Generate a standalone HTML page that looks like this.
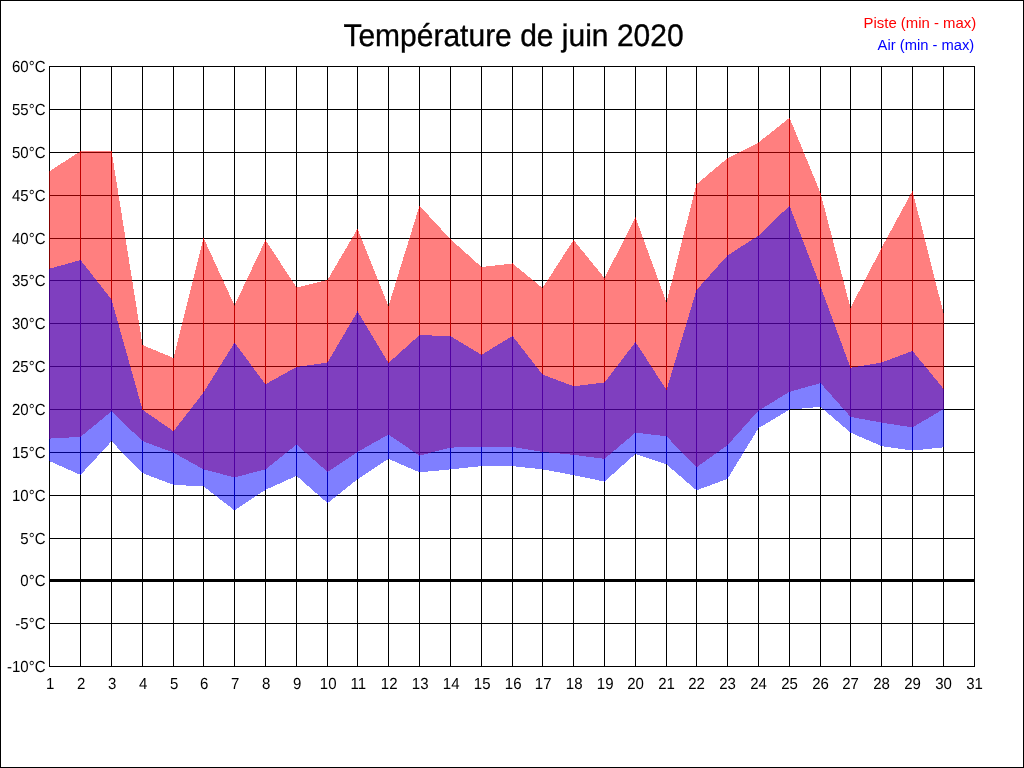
<!DOCTYPE html>
<html lang="fr"><head><meta charset="utf-8"><title>Température de juin 2020</title>
<style>
html,body{margin:0;padding:0;background:#fff;}
body{width:1024px;height:768px;overflow:hidden;position:relative;font-family:"Liberation Sans",sans-serif;}
svg{position:absolute;left:0;top:0;display:block;}
text{font-family:"Liberation Sans",sans-serif;}
.yl{text-rendering:geometricPrecision;font-size:15px;text-anchor:end;fill:#000;}
.xl{text-rendering:geometricPrecision;font-size:15px;text-anchor:middle;fill:#000;}
.lg{text-anchor:end;}
.ti{text-rendering:geometricPrecision;font-size:30px;text-anchor:middle;fill:#000;stroke:#000;stroke-width:0.35px;}
</style></head><body>
<svg width="1024" height="768" viewBox="0 0 1024 768">
<rect x="0" y="0" width="1024" height="768" fill="#fff"/>
<g shape-rendering="crispEdges" fill="#000">
<rect x="0" y="0" width="1024" height="1"/><rect x="0" y="767" width="1024" height="1"/>
<rect x="0" y="0" width="1" height="768"/><rect x="1023" y="0" width="1" height="768"/>
<rect x="49" y="66" width="926" height="1"/>
<rect x="49" y="109" width="926" height="1"/>
<rect x="49" y="152" width="926" height="1"/>
<rect x="49" y="195" width="926" height="1"/>
<rect x="49" y="238" width="926" height="1"/>
<rect x="49" y="280" width="926" height="1"/>
<rect x="49" y="323" width="926" height="1"/>
<rect x="49" y="366" width="926" height="1"/>
<rect x="49" y="409" width="926" height="1"/>
<rect x="49" y="452" width="926" height="1"/>
<rect x="49" y="495" width="926" height="1"/>
<rect x="49" y="538" width="926" height="1"/>
<rect x="49" y="579" width="926" height="3"/>
<rect x="49" y="623" width="926" height="1"/>
<rect x="49" y="666" width="926" height="1"/>
<rect x="49" y="66" width="1" height="601"/>
<rect x="80" y="66" width="1" height="601"/>
<rect x="111" y="66" width="1" height="601"/>
<rect x="142" y="66" width="1" height="601"/>
<rect x="173" y="66" width="1" height="601"/>
<rect x="203" y="66" width="1" height="601"/>
<rect x="234" y="66" width="1" height="601"/>
<rect x="265" y="66" width="1" height="601"/>
<rect x="296" y="66" width="1" height="601"/>
<rect x="327" y="66" width="1" height="601"/>
<rect x="357" y="66" width="1" height="601"/>
<rect x="388" y="66" width="1" height="601"/>
<rect x="419" y="66" width="1" height="601"/>
<rect x="450" y="66" width="1" height="601"/>
<rect x="481" y="66" width="1" height="601"/>
<rect x="512" y="66" width="1" height="601"/>
<rect x="542" y="66" width="1" height="601"/>
<rect x="573" y="66" width="1" height="601"/>
<rect x="604" y="66" width="1" height="601"/>
<rect x="635" y="66" width="1" height="601"/>
<rect x="666" y="66" width="1" height="601"/>
<rect x="696" y="66" width="1" height="601"/>
<rect x="727" y="66" width="1" height="601"/>
<rect x="758" y="66" width="1" height="601"/>
<rect x="789" y="66" width="1" height="601"/>
<rect x="820" y="66" width="1" height="601"/>
<rect x="850" y="66" width="1" height="601"/>
<rect x="881" y="66" width="1" height="601"/>
<rect x="912" y="66" width="1" height="601"/>
<rect x="943" y="66" width="1" height="601"/>
<rect x="974" y="66" width="1" height="601"/>
</g>
<g shape-rendering="crispEdges" fill-opacity="0.5">
<polygon fill="#f00" points="49,171.57 81,150.93 81,436.82 49,438.63"/>
<polygon fill="#00f" points="49,268.89 81,259.86 81,475.07 49,460.88"/>
<polygon fill="#f00" points="80,151.26 112,150.74 112,410.94 80,437.26"/>
<polygon fill="#00f" points="80,259.36 112,300.14 112,440.81 80,475.39"/>
<polygon fill="#f00" points="111,147.62 143,348.13 143,441.58 111,410.87"/>
<polygon fill="#00f" points="111,297.72 143,411.53 143,473.61 111,440.84"/>
<polygon fill="#f00" points="142,344.79 174,358.21 174,452.79 142,440.91"/>
<polygon fill="#00f" points="142,409.40 174,431.60 174,485.04 142,472.91"/>
<polygon fill="#f00" points="173,360.00 204,235.75 204,469.63 173,452.32"/>
<polygon fill="#00f" points="173,431.90 204,391.85 204,486.38 173,484.83"/>
<polygon fill="#f00" points="203,236.66 235,306.59 235,477.48 203,469.22"/>
<polygon fill="#00f" points="203,393.30 235,341.95 235,510.74 203,485.96"/>
<polygon fill="#f00" points="234,306.56 266,238.94 266,469.22 234,477.48"/>
<polygon fill="#00f" points="234,342.08 266,384.92 266,489.52 234,510.68"/>
<polygon fill="#f00" points="265,239.23 297,288.27 297,444.20 265,469.75"/>
<polygon fill="#00f" points="265,384.53 297,366.72 297,475.62 265,490.08"/>
<polygon fill="#f00" points="296,287.62 328,279.88 328,472.29 296,444.16"/>
<polygon fill="#00f" points="296,367.07 328,362.43 328,503.54 296,475.41"/>
<polygon fill="#f00" points="327,280.85 358,227.90 358,451.52 327,472.18"/>
<polygon fill="#00f" points="327,363.35 358,310.65 358,478.95 327,503.50"/>
<polygon fill="#f00" points="357,227.50 389,307.25 389,434.32 357,452.13"/>
<polygon fill="#00f" points="357,310.67 389,363.83 389,458.52 357,479.68"/>
<polygon fill="#f00" points="388,307.62 420,204.13 420,455.94 388,434.26"/>
<polygon fill="#00f" points="388,363.45 420,334.55 420,472.57 388,458.63"/>
<polygon fill="#f00" points="419,205.21 451,239.79 451,447.47 419,455.73"/>
<polygon fill="#00f" points="419,334.98 451,336.27 451,469.30 419,472.40"/>
<polygon fill="#f00" points="450,238.80 482,267.45 482,446.84 450,447.61"/>
<polygon fill="#00f" points="450,335.95 482,355.05 482,466.05 450,469.40"/>
<polygon fill="#f00" points="481,267.06 513,263.44 513,446.85 481,446.85"/>
<polygon fill="#00f" points="481,355.05 513,335.70 513,466.10 481,466.10"/>
<polygon fill="#f00" points="512,263.09 543,288.41 543,451.93 512,446.77"/>
<polygon fill="#00f" points="512,335.36 543,375.14 543,469.40 512,466.05"/>
<polygon fill="#f00" points="542,288.77 574,239.23 574,454.90 542,451.80"/>
<polygon fill="#00f" points="542,374.31 574,386.44 574,475.19 542,469.26"/>
<polygon fill="#f00" points="573,239.39 605,278.61 605,458.91 573,454.79"/>
<polygon fill="#00f" points="573,386.31 605,382.44 605,481.70 573,475.00"/>
<polygon fill="#f00" points="604,278.98 636,216.52 636,432.18 604,459.27"/>
<polygon fill="#00f" points="604,383.15 636,341.35 636,453.40 604,482.05"/>
<polygon fill="#f00" points="635,216.13 667,303.62 667,436.41 635,432.54"/>
<polygon fill="#00f" points="635,341.23 667,390.77 667,464.52 635,453.68"/>
<polygon fill="#f00" points="666,304.22 697,182.28 697,467.87 666,435.83"/>
<polygon fill="#00f" points="666,391.67 697,288.33 697,490.78 666,463.92"/>
<polygon fill="#f00" points="696,184.67 728,157.83 728,444.74 696,467.71"/>
<polygon fill="#00f" points="696,290.56 728,254.94 728,478.66 696,490.54"/>
<polygon fill="#f00" points="727,158.50 759,142.25 759,410.04 727,445.66"/>
<polygon fill="#00f" points="727,255.82 759,235.28 759,427.28 727,479.67"/>
<polygon fill="#f00" points="758,142.90 790,117.35 790,391.55 758,410.90"/>
<polygon fill="#00f" points="758,236.08 790,205.27 790,409.30 758,428.40"/>
<polygon fill="#f00" points="789,116.54 821,194.21 821,382.96 789,391.99"/>
<polygon fill="#00f" points="789,204.45 821,287.80 821,406.81 789,409.64"/>
<polygon fill="#f00" points="820,191.08 851,309.92 851,417.41 820,382.54"/>
<polygon fill="#00f" points="820,285.15 851,369.10 851,433.03 820,406.42"/>
<polygon fill="#f00" points="850,308.97 882,247.03 882,422.69 850,416.76"/>
<polygon fill="#00f" points="850,367.83 882,362.42 882,446.32 850,432.38"/>
<polygon fill="#f00" points="881,248.92 913,189.83 913,427.43 881,422.52"/>
<polygon fill="#00f" points="881,362.69 913,350.81 913,450.67 881,446.03"/>
<polygon fill="#f00" points="912,188.77 944,315.23 944,408.81 912,427.64"/>
<polygon fill="#00f" points="912,350.39 944,389.36 944,447.30 912,450.65"/>
</g>
<text class="yl" transform="translate(45.5,72) scale(1,1.07)">60°C</text>
<text class="yl" transform="translate(45.5,115) scale(1,1.07)">55°C</text>
<text class="yl" transform="translate(45.5,158) scale(1,1.07)">50°C</text>
<text class="yl" transform="translate(45.5,201) scale(1,1.07)">45°C</text>
<text class="yl" transform="translate(45.5,244) scale(1,1.07)">40°C</text>
<text class="yl" transform="translate(45.5,286) scale(1,1.07)">35°C</text>
<text class="yl" transform="translate(45.5,329) scale(1,1.07)">30°C</text>
<text class="yl" transform="translate(45.5,372) scale(1,1.07)">25°C</text>
<text class="yl" transform="translate(45.5,415) scale(1,1.07)">20°C</text>
<text class="yl" transform="translate(45.5,458) scale(1,1.07)">15°C</text>
<text class="yl" transform="translate(45.5,501) scale(1,1.07)">10°C</text>
<text class="yl" transform="translate(45.5,544) scale(1,1.07)">5°C</text>
<text class="yl" transform="translate(45.5,586) scale(1,1.07)">0°C</text>
<text class="yl" transform="translate(45.5,629) scale(1,1.07)">-5°C</text>
<text class="yl" transform="translate(45.5,672) scale(1,1.07)">-10°C</text>
<text class="xl" transform="translate(50.2,689) scale(1,1.07)">1</text>
<text class="xl" transform="translate(81.2,689) scale(1,1.07)">2</text>
<text class="xl" transform="translate(112.2,689) scale(1,1.07)">3</text>
<text class="xl" transform="translate(143.2,689) scale(1,1.07)">4</text>
<text class="xl" transform="translate(174.2,689) scale(1,1.07)">5</text>
<text class="xl" transform="translate(204.2,689) scale(1,1.07)">6</text>
<text class="xl" transform="translate(235.2,689) scale(1,1.07)">7</text>
<text class="xl" transform="translate(266.2,689) scale(1,1.07)">8</text>
<text class="xl" transform="translate(297.2,689) scale(1,1.07)">9</text>
<text class="xl" transform="translate(328.2,689) scale(1,1.07)">10</text>
<text class="xl" transform="translate(358.2,689) scale(1,1.07)">11</text>
<text class="xl" transform="translate(389.2,689) scale(1,1.07)">12</text>
<text class="xl" transform="translate(420.2,689) scale(1,1.07)">13</text>
<text class="xl" transform="translate(451.2,689) scale(1,1.07)">14</text>
<text class="xl" transform="translate(482.2,689) scale(1,1.07)">15</text>
<text class="xl" transform="translate(513.2,689) scale(1,1.07)">16</text>
<text class="xl" transform="translate(543.2,689) scale(1,1.07)">17</text>
<text class="xl" transform="translate(574.2,689) scale(1,1.07)">18</text>
<text class="xl" transform="translate(605.2,689) scale(1,1.07)">19</text>
<text class="xl" transform="translate(635.5,689) scale(1,1.07)">20</text>
<text class="xl" transform="translate(666.5,689) scale(1,1.07)">21</text>
<text class="xl" transform="translate(696.5,689) scale(1,1.07)">22</text>
<text class="xl" transform="translate(727.5,689) scale(1,1.07)">23</text>
<text class="xl" transform="translate(758.5,689) scale(1,1.07)">24</text>
<text class="xl" transform="translate(789.5,689) scale(1,1.07)">25</text>
<text class="xl" transform="translate(820.5,689) scale(1,1.07)">26</text>
<text class="xl" transform="translate(850.5,689) scale(1,1.07)">27</text>
<text class="xl" transform="translate(881.5,689) scale(1,1.07)">28</text>
<text class="xl" transform="translate(912.5,689) scale(1,1.07)">29</text>
<text class="xl" transform="translate(943.5,689) scale(1,1.07)">30</text>
<text class="xl" transform="translate(974.5,689) scale(1,1.07)">31</text>
<text class="ti" transform="translate(513.5,46) scale(1,1.04)">Température de juin 2020</text>
<text class="lg" x="976.2" y="28" font-size="14.92" fill="#ff0000">Piste (min - max)</text>
<text class="lg" x="974.3" y="50" font-size="14.75" fill="#0000ff">Air (min - max)</text>
</svg></body></html>
